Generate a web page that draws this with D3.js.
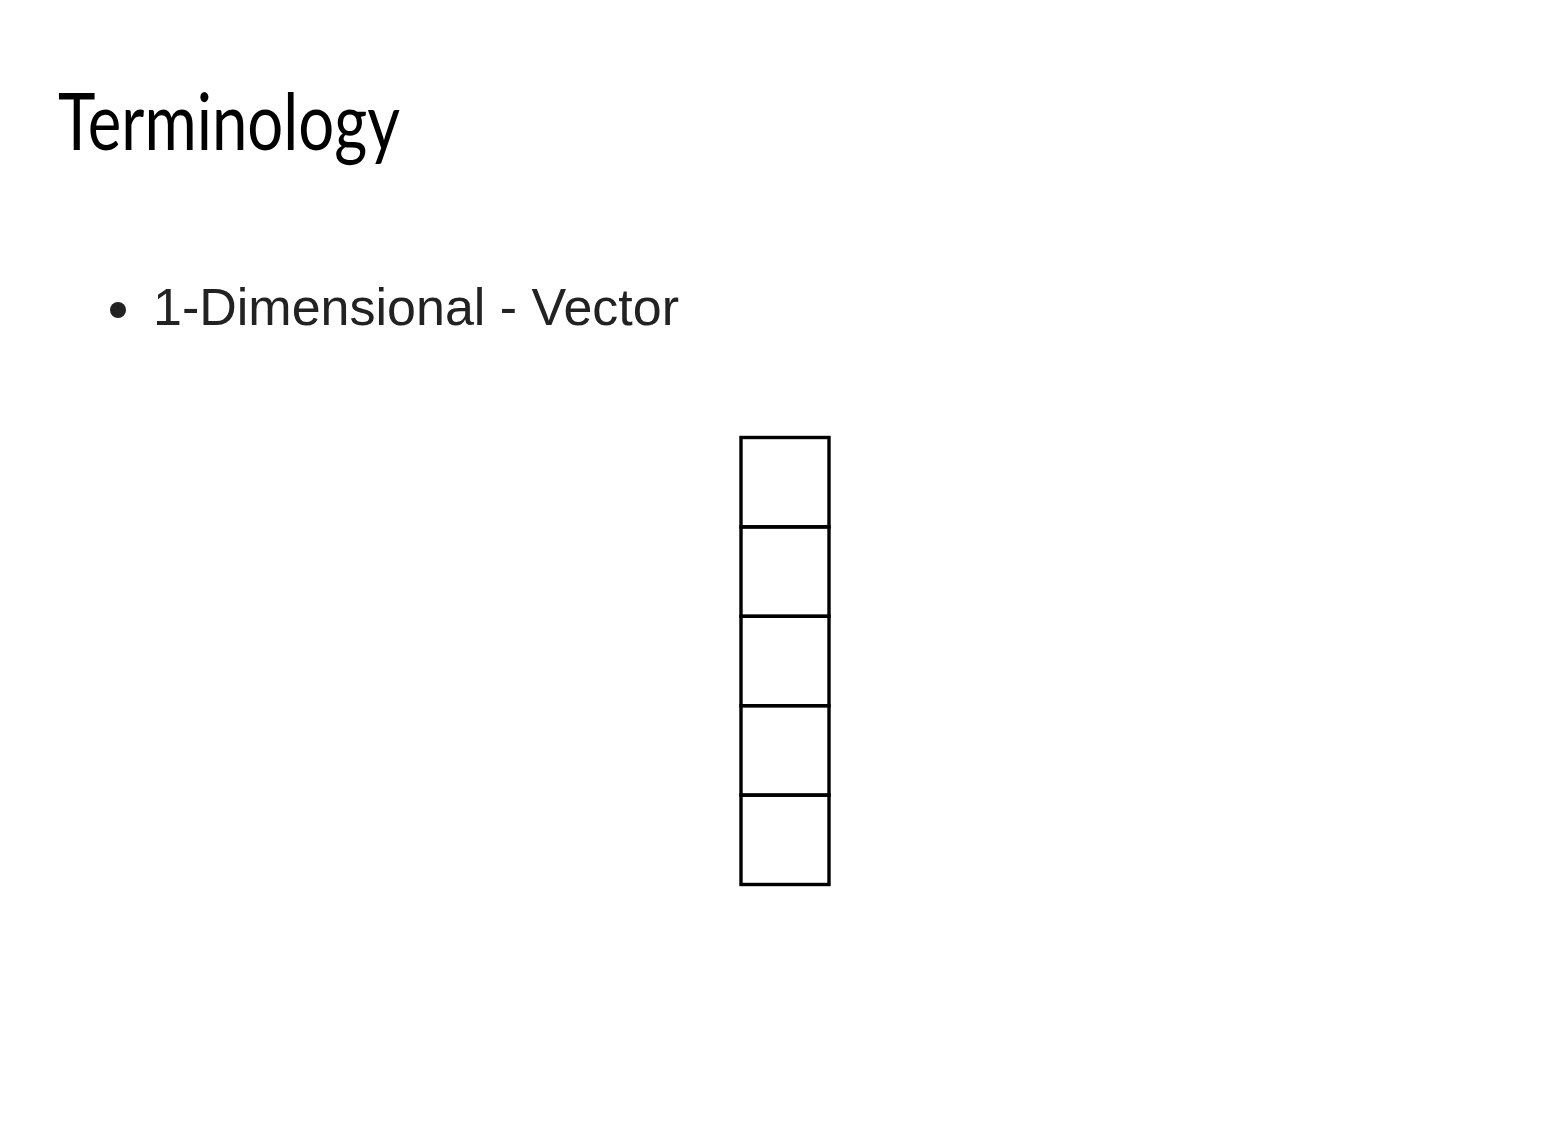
<!DOCTYPE html>
<html lang="en">

<head>
	<meta charset="utf-8">
	<title>Terminology</title>
	<script src="https://d3js.org/d3.v7.min.js"></script>
	<style type="text/css">
		body {
			margin: 0;
			background: white;
		}
	</style>
</head>

<body>
	<script type="text/javascript">

		// slide texts
		let titleText = "Terminology";
		let bullets = ["1-Dimensional - Vector"];

		// one entry per cell of the vector
		let vectorCells = [0, 1, 2, 3, 4];

		//Width and height
		let w = 1561;
		let h = 1138;

		let svg = d3.select("body")
			.append("svg")
			.attr("width", w)
			.attr("height", h);

		// title (condensed look, squeezed to the slide's width)
		svg.append("text")
			.text(titleText)
			.attr("x", 58)
			.attr("y", 150)
			.attr("font-family", "Lato, Roboto, sans-serif")
			.attr("font-weight", 400)
			.attr("font-size", "79px")
			.attr("textLength", 342)
			.attr("lengthAdjust", "spacingAndGlyphs")
			.attr("fill", "black");

		// bullet list
		let bulletY = d3.scaleBand()
			.domain(d3.range(bullets.length))
			.range([280, 340]);

		let items = svg.selectAll("g.bullet")
			.data(bullets)
			.enter()
			.append("g")
			.attr("class", "bullet")
			.attr("transform", function (d, i) {
				return "translate(0," + (bulletY(i) + 45) + ")";
			});

		items.append("circle")
			.attr("cx", 118)
			.attr("cy", -15)
			.attr("r", 8)
			.attr("fill", "#222");

		items.append("text")
			.text(function (d) { return d; })
			.attr("x", 153)
			.attr("y", 0)
			.attr("font-family", "'Liberation Sans', Arial, sans-serif")
			.attr("font-size", "52px")
			.attr("fill", "#222");

		// vector cells, stacked vertically
		let yScale = d3.scaleBand()
			.domain(vectorCells)
			.range([437.5, 884.5]);

		svg.selectAll("rect.cell")
			.data(vectorCells)
			.enter()
			.append("rect")
			.attr("class", "cell")
			.attr("x", 741)
			.attr("y", function (d) { return yScale(d); })
			.attr("width", 88)
			.attr("height", yScale.bandwidth())
			.attr("fill", "none")
			.attr("stroke", "black")
			.attr("stroke-width", 3.4);

	</script>
</body>

</html>
